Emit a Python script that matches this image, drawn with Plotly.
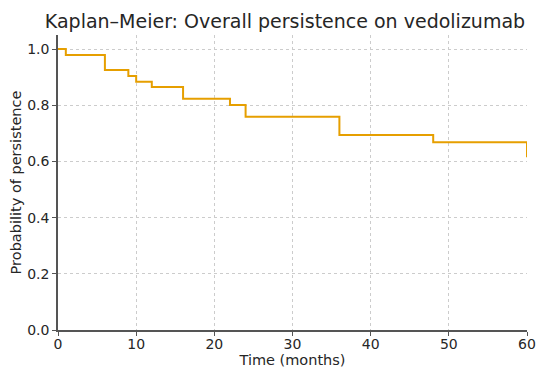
import plotly.graph_objects as go

time_months = [0, 1, 6, 9, 10, 12, 16, 22, 24, 36, 48, 60]
survival = [1.0, 0.979, 0.925, 0.904, 0.884, 0.865, 0.823, 0.801, 0.759, 0.694, 0.668, 0.615]
x_ticks = [0, 10, 20, 30, 40, 50, 60]
y_ticks = [0, 0.2, 0.4, 0.6, 0.8, 1.0]

# step function: value holds until the next event; final drop at 60
x_vals = time_months[:-1] + [60, 60]
y_vals = survival[:-1] + [survival[-2], survival[-1]]

fig = go.Figure()
fig.add_trace(go.Scatter(
    x=x_vals, y=y_vals, mode="lines", line_shape="hv",
    line=dict(color="#E69F00", width=2), showlegend=False,
))

font = "DejaVu Sans"
# page body has an 8px default margin, so the figure is sized/offset to compensate
fig.update_layout(
    width=542, height=372,
    margin=dict(l=50, r=23, t=27, b=50),
    paper_bgcolor="white", plot_bgcolor="white",
    title=dict(text="Kaplan–Meier: Overall persistence on vedolizumab",
               x=0.511, xanchor="center", y=0.965, yanchor="middle",
               font=dict(family=font, size=19, color="#262626")),
    font=dict(family=font, color="#262626"),
)
fig.update_xaxes(
    range=[0, 60], tickvals=x_ticks, automargin=False,
    showline=True, linecolor="#555555", linewidth=1.5,
    ticks="outside", ticklen=4, tickcolor="#555555",
    showgrid=True, gridcolor="#cccccc", griddash="dot", gridwidth=1,
    zeroline=False, tickfont=dict(size=14), ticklabelstandoff=-4,
    title=dict(text="Time (months)", font=dict(size=14.5), standoff=2),
)
fig.update_yaxes(
    range=[0, 1.05], tickvals=y_ticks, tickformat=".1f", automargin=False,
    showline=True, linecolor="#555555", linewidth=1.5,
    ticks="outside", ticklen=4, tickcolor="#555555",
    showgrid=True, gridcolor="#cccccc", griddash="dot", gridwidth=1,
    zeroline=False, tickfont=dict(size=14),
    title=dict(text="Probability of persistence", font=dict(size=14.5), standoff=6),
)
fig.write_html("out.html")
